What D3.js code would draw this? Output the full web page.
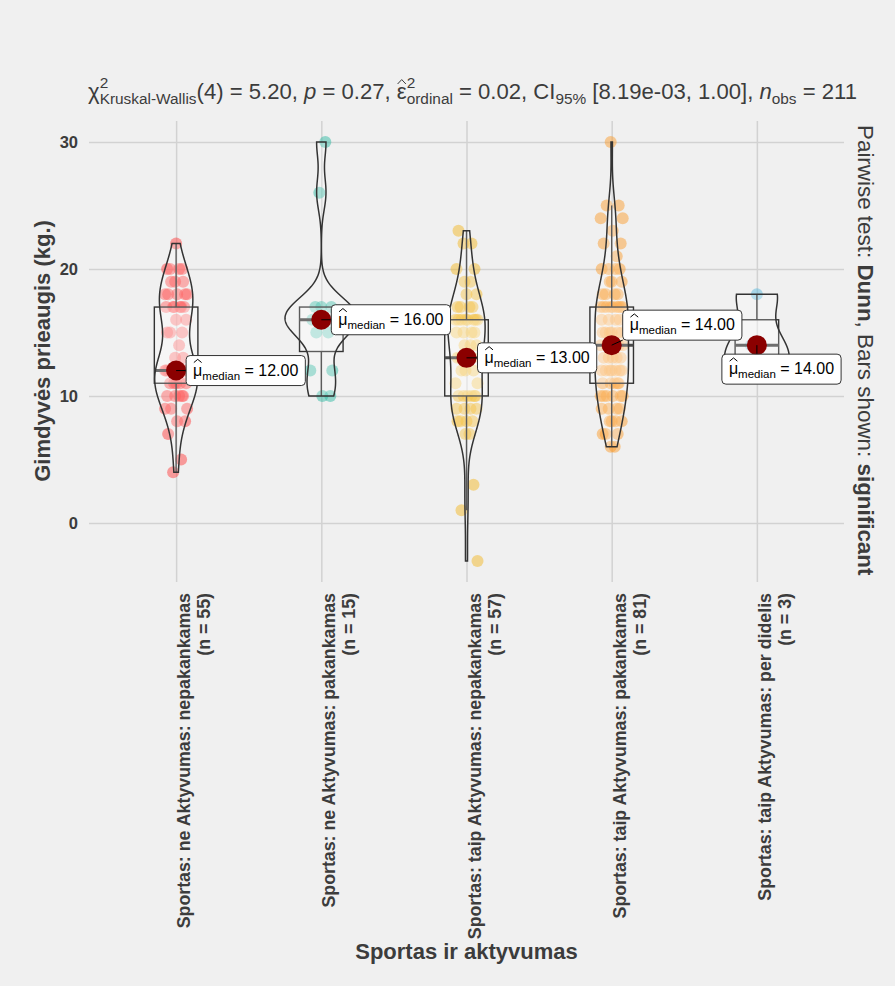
<!DOCTYPE html>
<html>
<head>
<meta charset="utf-8">
<script src="https://cdn.jsdelivr.net/npm/d3@7"></script>
<style>
  html, body { margin: 0; padding: 0; background: #F0F0F0; }
  svg { display: block; font-family: "Liberation Sans", Arial, Helvetica, sans-serif; }
  text { white-space: pre; }
</style>
</head>
<body>
<svg id="chart" width="895" height="986"></svg>
<script>
// ---- data -------------------------------------------------------------
const categories = [
  "Sportas: ne Aktyvumas: nepakankamas",
  "Sportas: ne Aktyvumas: pakankamas",
  "Sportas: taip Aktyvumas: nepakankamas",
  "Sportas: taip Aktyvumas: pakankamas",
  "Sportas: taip Aktyvumas: per didelis"
];

// weight gain (kg) per respondent, one array per group
const neNepakankamas = [4,5,7,8,8,9,9,9,10,10,10,10,10,11,11,11,11,11,
  12,12,12,12,12,12,12,12,12,12,13,13,14,15,15,15,16,16,
  17,17,17,17,17,17,18,18,18,18,18,19,19,19,20,20,20,20,22];
const nePakankamas = [10,10,12,12,15,15,16,16,16,16,17,17,17,26,30];
const taipNepakankamas = [-3,1,3,7,7,8,8,8,8,9,9,9,9,10,10,10,10,10,10,11,11,
  12,12,12,13,13,13,13,13,14,14,14,15,15,15,15,16,16,16,16,16,16,16,16,
  17,17,17,17,18,18,19,19,20,20,22,22,23];
const taipPakankamas = [6,6,7,7,7,8,8,8,8,9,9,9,9,10,10,10,10,10,10,
  11,11,11,11,11,12,12,12,12,12,12,12,13,13,13,13,13,14,14,14,14,14,14,
  15,15,15,15,15,15,16,16,16,16,17,17,17,17,17,17,17,17,17,
  18,18,18,18,19,19,19,20,20,20,20,21,22,22,23,24,24,25,25,30];
const taipPerDidelis = [12,14,18];

const groupValues = [neNepakankamas, nePakankamas, taipNepakankamas, taipPakankamas, taipPerDidelis];
const pointColors = ["#FF3B3B", "#2AB7A0", "#F2B51F", "#FB9B2A", "#56B8DE"];
const yTicks = [0, 10, 20, 30];

const yTitle = "Gimdyvės prieaugis (kg.)";
const xTitle = "Sportas ir aktyvumas";

// Kruskal-Wallis summary
const statLine = { df: 4, chi2: "5.20", p: "0.27", eps2: "0.02", ciLow: "8.19e-03", ciHigh: "1.00" };

// ---- layout -----------------------------------------------------------
const ink = "#3C3C3C";
const plot = { left: 89, right: 844, top: 121, bottom: 582 };
// label offsets from each median dot: left edge dx, vertical centre dy
const labelNudge = [[10, 0], [10, 0], [11, 0], [11, -20], [-35, 24]];
// horizontal jitter pattern for points (px)
const jitter = [-3, 5, -8, 9, 1, -11, 11, -5, 7, -1, 3, -9, 6, -6, 0, 10, -2, 4, -10, 8];

const svg = d3.select("#chart");

const allValues = groupValues.flat();
const ext = d3.extent(allValues);
const padY = (ext[1] - ext[0]) * 0.05;
const y = d3.scaleLinear().domain([ext[0] - padY, ext[1] + padY]).range([plot.bottom, plot.top]);
const x = d3.scalePoint().domain(categories).range([plot.left, plot.right]).padding(0.6);
const step = x.step();

// ---- grid + axes ------------------------------------------------------
const yAxis = svg.append("g").attr("transform", `translate(${plot.left},0)`)
  .call(d3.axisLeft(y).tickValues(yTicks).tickSize(-(plot.right - plot.left)).tickPadding(11));
yAxis.select(".domain").remove();
yAxis.selectAll("line").attr("stroke", "#D2D2D2").attr("stroke-width", 1.5);
yAxis.selectAll("text").attr("font-size", 16.5).attr("font-weight", "bold").attr("fill", ink)
  .attr("font-family", "Liberation Sans, Arial, sans-serif");

const xAxis = svg.append("g").attr("transform", `translate(0,${plot.bottom})`)
  .call(d3.axisBottom(x).tickSize(-(plot.bottom - plot.top)).tickFormat(""));
xAxis.select(".domain").remove();
xAxis.selectAll("line").attr("stroke", "#D2D2D2").attr("stroke-width", 1.5);

// x tick labels (rotated, two lines)
categories.forEach((c, i) => {
  const cx = x(c);
  svg.append("text").attr("transform", `translate(${cx + 14},593) rotate(-90)`)
    .attr("text-anchor", "end").attr("font-size", 17.8).attr("font-weight", "bold").attr("fill", ink)
    .text(c);
  svg.append("text").attr("transform", `translate(${cx + 34},593) rotate(-90)`)
    .attr("text-anchor", "end").attr("font-size", 17.8).attr("font-weight", "bold").attr("fill", ink)
    .text(`(n = ${groupValues[i].length})`);
});

// axis titles
svg.append("text").attr("transform", "translate(49.5,351) rotate(-90)").attr("text-anchor", "middle")
  .attr("font-size", 22).attr("font-weight", "bold").attr("fill", ink).text(yTitle);
svg.append("text").attr("x", (plot.left + plot.right) / 2).attr("y", 959).attr("text-anchor", "middle")
  .attr("font-size", 22).attr("font-weight", "bold").attr("fill", ink).text(xTitle);

// ---- points -----------------------------------------------------------
const gPts = svg.append("g");
groupValues.forEach((vals, gi) => {
  const cx = x(categories[gi]);
  gPts.selectAll(null).data(vals).join("circle")
    .attr("cx", (d, i) => cx + jitter[(i + gi * 3) % jitter.length])
    .attr("cy", d => y(d))
    .attr("r", 6)
    .attr("fill", pointColors[gi])
    .attr("fill-opacity", 0.48);
});

// ---- statistics helpers ------------------------------------------------
function bwNrd0(v) {
  const s = v.slice().sort(d3.ascending);
  const sd = d3.deviation(s);
  const iqr = d3.quantileSorted(s, 0.75) - d3.quantileSorted(s, 0.25);
  let lo = Math.min(sd, iqr / 1.34);
  if (!(lo > 0)) lo = sd || Math.abs(s[0]) || 1;
  return 0.9 * lo * Math.pow(s.length, -0.2);
}
function kde(v) {
  const bw = bwNrd0(v);
  const [lo, hi] = d3.extent(v);
  const n = 512, out = [];
  for (let k = 0; k < n; k++) {
    const t = lo + (hi - lo) * k / (n - 1);
    let s = 0;
    for (const xi of v) { const z = (t - xi) / bw; s += Math.exp(-0.5 * z * z); }
    out.push([t, s / (v.length * bw * Math.sqrt(2 * Math.PI))]);
  }
  return out;
}

const densities = groupValues.map(kde);
const maxDens = d3.max(densities, d => d3.max(d, e => e[1]));
const halfViolin = step * 0.5 / 2;
const halfBox = step * 0.3 / 2;

// ---- boxplots ---------------------------------------------------------
const lineCol = "#333333";
const gBox = svg.append("g");
const stats = groupValues.map(vals => {
  const s = vals.slice().sort(d3.ascending);
  const q1 = d3.quantileSorted(s, 0.25), q3 = d3.quantileSorted(s, 0.75), med = d3.quantileSorted(s, 0.5);
  const iqr = q3 - q1;
  const lowW = d3.min(s.filter(v => v >= q1 - 1.5 * iqr));
  const highW = d3.max(s.filter(v => v <= q3 + 1.5 * iqr));
  return { q1, q3, med, lowW, highW };
});
stats.forEach((st, gi) => {
  const cx = x(categories[gi]);
  gBox.append("line").attr("x1", cx).attr("x2", cx).attr("y1", y(st.q3)).attr("y2", y(st.highW))
    .attr("stroke", lineCol).attr("stroke-width", 1.4);
  gBox.append("line").attr("x1", cx).attr("x2", cx).attr("y1", y(st.q1)).attr("y2", y(st.lowW))
    .attr("stroke", lineCol).attr("stroke-width", 1.4);
  gBox.append("rect").attr("x", cx - halfBox).attr("width", 2 * halfBox)
    .attr("y", y(st.q3)).attr("height", y(st.q1) - y(st.q3))
    .attr("fill", "#ffffff").attr("fill-opacity", 0.3).attr("stroke", lineCol).attr("stroke-width", 1.4);
  gBox.append("line").attr("x1", cx - halfBox).attr("x2", cx + halfBox).attr("y1", y(st.med)).attr("y2", y(st.med))
    .attr("stroke", "#4a4a4a").attr("stroke-width", 3);
});

// ---- violins ----------------------------------------------------------
const gVio = svg.append("g");
densities.forEach((dens, gi) => {
  const cx = x(categories[gi]);
  const area = d3.area()
    .y(d => y(d[0]))
    .x0(d => cx - d[1] / maxDens * halfViolin)
    .x1(d => cx + d[1] / maxDens * halfViolin);
  gVio.append("path").attr("d", area(dens))
    .attr("fill", "#ffffff").attr("fill-opacity", 0.2)
    .attr("stroke", lineCol).attr("stroke-width", 1.5);
});

// ---- rich text helper (sub/superscripts, hats) ----------------------
function richText(parent, runs, fill) {
  const g = parent.append("g");
  let cx = 0, lastStart = 0, lastW = 0;
  runs.forEach(r => {
    const t = g.append("text").attr("font-size", r.fs).attr("fill", fill)
      .attr("font-style", r.it ? "italic" : null).text(r.t);
    const w = t.node().getComputedTextLength();
    let sx;
    if (r.stack) { sx = lastStart; lastW = Math.max(lastW, w); cx = lastStart + lastW; }
    else { sx = cx; lastStart = sx; lastW = w; cx = sx + w; }
    t.attr("x", sx).attr("y", r.dy || 0);
    if (r.hat) {
      const yb = r.hatY !== undefined ? r.hatY : -r.fs * 0.72;
      g.append("path")
        .attr("d", `M${sx + w * 0.08},${yb} L${sx + w * 0.5},${yb - r.fs * 0.2} L${sx + w * 0.92},${yb}`)
        .attr("fill", "none").attr("stroke", fill).attr("stroke-width", 1);
    }
  });
  return { g, width: cx };
}

// ---- centrality: median dots + labels ---------------------------------
const gMed = svg.append("g");
stats.forEach((st, gi) => {
  const cx = x(categories[gi]), cy = y(st.med);
  gMed.append("circle").attr("cx", cx).attr("cy", cy).attr("r", 10).attr("fill", "#8B0000");
});
stats.forEach((st, gi) => {
  const cx = x(categories[gi]), cy = y(st.med);
  const [ndx, ndy] = labelNudge[gi];
  const lab = gMed.append("g");
  const rt = richText(lab, [
    { t: "\u03BC", fs: 16, hat: true, hatY: -13 },
    { t: "median", fs: 11.5, dy: 4 },
    { t: " = " + st.med.toFixed(2), fs: 16 }
  ], "#000000");
  const padX = 7, h = 30;
  const bx = cx + ndx, by = cy + ndy - h / 2, bw = rt.width + 2 * padX;
  // connector from dot to nearest point on label box
  const nx = Math.max(bx, Math.min(cx, bx + bw)), ny = Math.max(by, Math.min(cy, by + h));
  lab.insert("line", ":first-child").attr("x1", cx).attr("y1", cy).attr("x2", nx).attr("y2", ny)
    .attr("stroke", "#000").attr("stroke-width", 1);
  lab.insert("rect", "g").attr("x", bx).attr("y", by).attr("width", bw).attr("height", h)
    .attr("rx", 4).attr("fill", "#ffffff").attr("stroke", "#333").attr("stroke-width", 1);
  rt.g.attr("transform", `translate(${bx + padX},${by + h / 2 + 5})`);
});

// ---- subtitle with test statistics -----------------------------------
const F = 22.1, S = 15.4;
const title = richText(svg, [
  { t: "\u03C7", fs: F },
  { t: "2", fs: S, dy: -11 },
  { t: "Kruskal-Wallis", fs: S, dy: 5, stack: true },
  { t: `(${statLine.df}) = ${statLine.chi2}, `, fs: F },
  { t: "p", fs: F, it: true },
  { t: ` = ${statLine.p}, `, fs: F },
  { t: "\u03B5", fs: F, hat: true, hatY: -15 },
  { t: "2", fs: S, dy: -11 },
  { t: "ordinal", fs: S, dy: 5, stack: true },
  { t: ` = ${statLine.eps2}, CI`, fs: F },
  { t: "95%", fs: S, dy: 5 },
  { t: ` [${statLine.ciLow}, ${statLine.ciHigh}], `, fs: F },
  { t: "n", fs: F, it: true },
  { t: "obs", fs: S, dy: 5 },
  { t: ` = ${allValues.length}`, fs: F }
], ink);
title.g.attr("transform", `translate(${472.5 - title.width / 2},99)`);

// ---- right-hand caption ------------------------------------------------
const cap = svg.append("text").attr("transform", "translate(858,125) rotate(90)")
  .attr("font-size", 22.4).attr("fill", ink);
cap.append("tspan").text("Pairwise test: ");
cap.append("tspan").attr("font-weight", "bold").text("Dunn");
cap.append("tspan").text(", Bars shown: ");
cap.append("tspan").attr("font-weight", "bold").text("significant");
</script>
</body>
</html>
